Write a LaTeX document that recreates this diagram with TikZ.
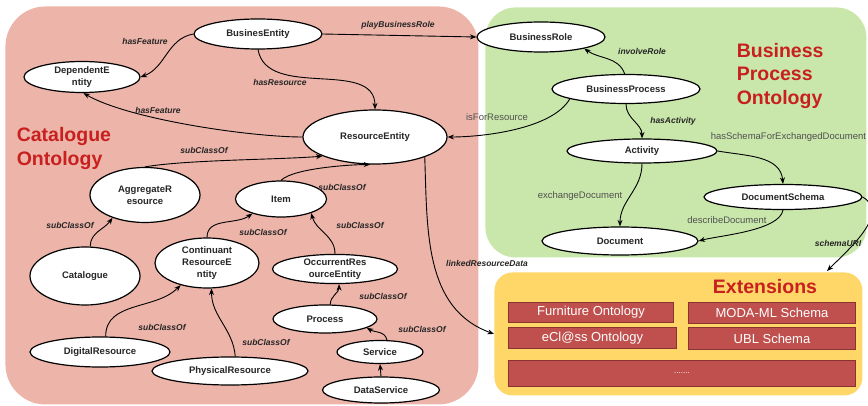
\documentclass[tikz,border=0pt]{standalone}
\usepackage{fontspec}
\setmainfont{Liberation Sans}
\usetikzlibrary{arrows.meta,shapes.geometric}

\definecolor{catpink}{RGB}{237,180,169}
\definecolor{bpgreen}{RGB}{201,231,171}
\definecolor{extyellow}{RGB}{254,215,104}
\definecolor{boxred}{RGB}{192,80,77}
\definecolor{boxedge}{RGB}{140,50,48}
\definecolor{titlered}{RGB}{200,32,30}
\definecolor{propgray}{RGB}{80,80,80}

\begin{document}
\begin{tikzpicture}[
    x=1pt, y=1pt,
    line width=0.9pt,
    >={Stealth[length=6.5pt,width=5pt]},
    every node/.style={font=\fontsize{9.5}{12}\selectfont},
    cls/.style   ={draw, ellipse, line width=1.2pt, fill=white, inner sep=0pt,
                   align=center, text=black!85,
                   font=\fontsize{9.5}{12}\selectfont\bfseries},
    rel/.style   ={font=\fontsize{8.5}{10}\selectfont\bfseries\itshape, text=black!85},
    prop/.style  ={font=\fontsize{9.5}{11}\selectfont, text=propgray},
    region/.style={rounded corners=40pt, anchor=north west, inner sep=0pt},
    extbox/.style={draw=boxedge, fill=boxred, line width=1pt, text=white,
                   anchor=north west, inner sep=0pt, font=\fontsize{13}{15}\selectfont},
    title/.style ={text=titlered, align=left, font=\fontsize{19.5}{23.5}\selectfont\bfseries},
]
\useasboundingbox (0,0) rectangle (868,-406);

% the three ontology areas
\node[region, fill=catpink, minimum width=473pt, minimum height=398pt] (catreg) at (5,-6) {};
\node[region, fill=bpgreen, rounded corners=30pt, minimum width=381pt, minimum height=250pt] (bpreg) at (485,-7) {};
\node[region, fill=extyellow, rounded corners=18pt, minimum width=368pt, minimum height=123pt] (ext) at (494,-272) {};

\node[title, anchor=west]   (cattitle) at (13,-148.5) {Catalogue\\Ontology};
\node[title, anchor=west]   (bptitle)  at (733,-76)   {Business\\Process\\Ontology};
\node[title, anchor=center] (exttitle) at (765,-287)  {Extensions};

% extension boxes
\node[extbox, minimum width=165pt, minimum height=20pt] (furn)   at (508,-302) {Furniture Ontology};
\node[extbox, minimum width=167pt, minimum height=21pt] (moda)   at (688,-302) {MODA-ML Schema};
\node[extbox, minimum width=168pt, minimum height=21pt] (eclass) at (508,-327) {eCl@ss Ontology};
\node[extbox, minimum width=167pt, minimum height=22pt] (ubl)    at (688,-327) {UBL Schema};
\node[extbox, minimum width=347pt, minimum height=26pt] (more)   at (508,-360) {\fontsize{8}{10}\selectfont .......};

% classes
\node[cls, minimum width=128pt, minimum height=30pt] (be)    at (258,-34)  {BusinesEntity};
\node[cls, minimum width=116pt, minimum height=31pt] (de)    at (82,-77)   {DependentE\\ntity};
\node[cls, minimum width=128pt, minimum height=30pt] (br)    at (541,-37)  {BusinessRole};
\node[cls, minimum width=148pt, minimum height=29pt] (bp)    at (626,-89)  {BusinessProcess};
\node[cls, minimum width=144pt, minimum height=54pt] (re)    at (375,-137) {ResourceEntity};
\node[cls, minimum width=150pt, minimum height=24pt] (act)   at (642,-151) {Activity};
\node[cls, minimum width=158pt, minimum height=25pt] (ds)    at (783,-197) {DocumentSchema};
\node[cls, minimum width=156pt, minimum height=28pt] (doc)   at (620,-241) {Document};
\node[cls, minimum width=110pt, minimum height=55pt] (ar)    at (145,-195) {AggregateR\\esource};
\node[cls, minimum width=91pt,  minimum height=36pt] (item)  at (281,-199) {Item};
\node[cls, minimum width=110pt, minimum height=58pt] (cat)   at (85,-276)  {Catalogue};
\node[cls, minimum width=104pt, minimum height=50pt] (cre)   at (207,-263) {Continuant\\ResourceE\\ntity};
\node[cls, minimum width=125pt, minimum height=29pt] (ore)   at (335,-269) {OccurrentRes\\ourceEntity};
\node[cls, minimum width=104pt, minimum height=28pt] (proc)  at (325,-319) {Process};
\node[cls, minimum width=86pt,  minimum height=23pt] (serv)  at (380,-352) {Service};
\node[cls, minimum width=117pt, minimum height=26pt] (dserv) at (381,-390) {DataService};
\node[cls, minimum width=140pt, minimum height=30pt] (dr)    at (100,-352) {DigitalResource};
\node[cls, minimum width=156pt, minimum height=28pt] (pr)    at (230,-371) {PhysicalResource};
\coordinate (uri) at (827,-271);

% relations
\draw[->] (be.west)    to[out=190,in=20] (de.east);
\draw[->] (be.south)   to[out=-80,in=90] (re.north);
\draw[->] (be.east)    -- (br.west);
\draw[->] (re.west)    to[out=180,in=-30,looseness=0.6] (de.-85);
\draw[->] (bp.95)      to[out=110,in=-35] (br.-15);
\draw[->] (bp.190)     to[out=-120,in=0,looseness=0.7] (re.east);
\draw[->] (bp.south)   to[out=-90,in=90] (act.north);
\draw[->] (act.east)   to[out=-10,in=95] (ds.north);
\draw[->] (act.south)  to[out=-90,in=90] (doc.north);
\draw[->] (ds.south)   to[out=-100,in=15,looseness=0.6] (doc.east);
\draw[->] (ds.east)    to[out=-30,in=45] (uri);
\draw[->] (re.-22)     to[out=-88,in=160] (ext.west);
\draw[->] (ar.north)   to[out=10,in=185,looseness=0.6] (re.200);
\draw[->] (item.north) to[out=45,in=180,looseness=0.5] (re.-100);
\draw[->] (cat.80)     to[out=90,in=235] (ar.215);
\draw[->] (cre.north)  to[out=90,in=215] (item.207);
\draw[->] (ore.north)  to[out=90,in=-75] (item.-25);
\draw[->] (dr.70)      to[out=90,in=225] (cre.220);
\draw[->] (pr.70)      to[out=95,in=-90] (cre.-80);
\draw[->] (proc.70)    to[out=90,in=-90] (ore.-75);
\draw[->] (serv.60)    to[out=100,in=-30] (proc.-12);
\draw[->] (dserv.north) -- (serv.south);

% relation labels
\node[rel]  (lfeat1) at (145,-41)  {hasFeature};
\node[rel]  (lres)   at (280,-82)  {hasResource};
\node[rel]  (lrole)  at (398,-25)  {playBusinessRole};
\node[rel]  (lfeat2) at (158,-110) {hasFeature};
\node[rel]  (linv)   at (642,-51)  {involveRole};
\node[prop] (lfor)   at (497,-117) {isForResource};
\node[rel]  (lact)   at (673,-121) {hasActivity};
\node[prop, anchor=west] (lschema) at (707,-137) {hasSchemaForExchangedDocument};
\node[prop] (lexch)  at (580,-196) {exchangeDocument};
\node[prop] (ldesc)  at (727,-220) {describeDocument};
\node[rel]  (luri)   at (838,-243) {schemaURI};
\node[rel]  (llink)  at (487,-263) {linkedResourceData};
\node[rel]  (lsub1)  at (204,-150) {subClassOf};
\node[rel]  (lsub2)  at (342,-187) {subClassOf};
\node[rel]  (lsub3)  at (70,-225)  {subClassOf};
\node[rel]  (lsub4)  at (263,-232) {subClassOf};
\node[rel]  (lsub5)  at (360,-225) {subClassOf};
\node[rel]  (lsub6)  at (162,-327) {subClassOf};
\node[rel]  (lsub7)  at (266,-342) {subClassOf};
\node[rel]  (lsub8)  at (383,-296) {subClassOf};
\node[rel]  (lsub9)  at (422,-329) {subClassOf};

\end{tikzpicture}
\end{document}
